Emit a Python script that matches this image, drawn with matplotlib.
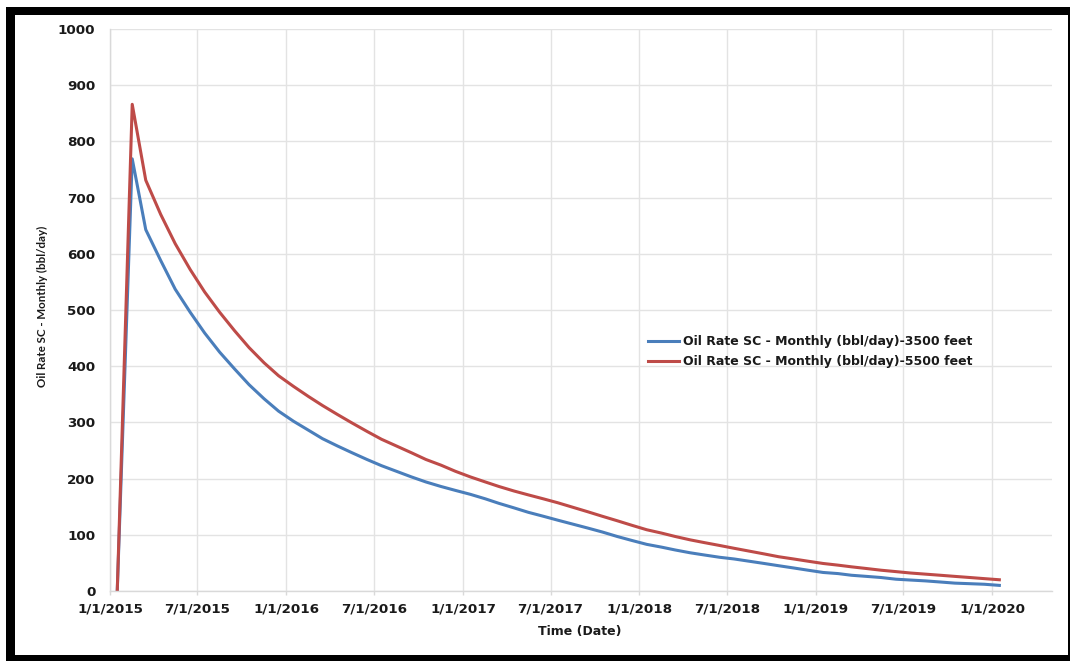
import matplotlib
matplotlib.use("Agg")
import matplotlib.pyplot as plt
from matplotlib.patches import Rectangle
import pandas as pd

# Monthly production dates (mid-month samples)
dates = pd.date_range("2015-01-01", periods=61, freq="MS") + pd.Timedelta(days=15)

# Oil rate, bbl/day
rate_3500 = [
    0, 769, 643, 588, 537, 496, 459, 425, 395, 367, 342, 320,
    302, 286, 271, 258, 246, 234, 223, 213, 203, 194, 186, 179,
    172, 164, 156, 148, 140, 133, 126, 119, 112, 105, 97, 90,
    83, 78, 73, 68, 64, 60, 57, 53, 49, 45, 41, 37,
    33, 31, 28, 26, 24, 21, 19.5, 18, 16, 14, 13, 12,
    10,
]
rate_5500 = [
    0, 866, 731, 670, 618, 572, 532, 496, 463, 433, 406, 383,
    364, 346, 330, 314, 299, 284, 270, 258, 246, 234, 224, 213,
    203, 194, 186, 178, 171, 164, 157, 149, 141, 133, 125, 117,
    109, 103, 97, 91, 86, 81, 76, 71, 66, 61, 57, 53,
    49, 46, 43, 40, 37, 34.5, 32, 30, 28, 26, 24, 22,
    20,
]
series_labels = [
    "Oil Rate SC - Monthly (bbl/day)-3500 feet",
    "Oil Rate SC - Monthly (bbl/day)-5500 feet",
]
x_tick_dates = ["2015-01-01", "2015-07-01", "2016-01-01", "2016-07-01",
                "2017-01-01", "2017-07-01", "2018-01-01", "2018-07-01",
                "2019-01-01", "2019-07-01", "2020-01-01"]
x_tick_labels = ["1/1/2015", "7/1/2015", "1/1/2016", "7/1/2016", "1/1/2017",
                 "7/1/2017", "1/1/2018", "7/1/2018", "1/1/2019", "7/1/2019",
                 "1/1/2020"]
y_ticks = [0, 100, 200, 300, 400, 500, 600, 700, 800, 900, 1000]

W, H = 1070, 661
fig = plt.figure(figsize=(W / 100, H / 100), dpi=100)
fig.patch.set_facecolor("white")


def px_rect(x0, y0, x1, y1, **kw):
    """Rectangle given in pixel coordinates measured from the top-left."""
    return Rectangle((x0 / W, 1 - y1 / H), (x1 - x0) / W, (y1 - y0) / H,
                     transform=fig.transFigure, **kw)


# Black frame around the chart area (heavier on the top and left)
fig.add_artist(px_rect(6, 7, 1070, 661, facecolor="black", edgecolor="none",
                       linewidth=0, zorder=0))
fig.add_artist(px_rect(15, 15, 1067.5, 655, facecolor="white", edgecolor="none",
                       linewidth=0, zorder=0.5))

left, right, top, bottom = 110, 1052, 29, 591
ax = fig.add_axes([left / W, 1 - bottom / H, (right - left) / W, (bottom - top) / H])
ax.set_facecolor("none")
ax.set_zorder(2)

blue = "#4A7EBB"
red = "#BE4B48"
ax.plot(dates, rate_3500, color=blue, lw=2.2, label=series_labels[0], solid_joinstyle="round")
ax.plot(dates, rate_5500, color=red, lw=2.2, label=series_labels[1], solid_joinstyle="round")

ax.set_xlim(pd.Timestamp("2015-01-01"), pd.Timestamp("2020-05-04"))
ax.set_ylim(0, 1000)

ax.set_xticks(pd.to_datetime(x_tick_dates))
ax.set_xticklabels(x_tick_labels)
ax.set_yticks(y_ticks)
ax.set_yticklabels([str(v) for v in y_ticks])

grid_c = "#E3E3E3"
ax.grid(True, color=grid_c, lw=1.0)
ax.set_axisbelow(True)
for side in ["top", "right"]:
    ax.spines[side].set_visible(False)
for side in ["left", "bottom"]:
    ax.spines[side].set_color("#D9D9D9")
    ax.spines[side].set_linewidth(1.0)

ax.tick_params(axis="x", length=3, width=1, color="#D9D9D9", pad=5,
               labelsize=9.7, labelcolor="#1a1a1a")
ax.tick_params(axis="y", length=0, pad=10.5, labelsize=9.7, labelcolor="#1a1a1a")
for lab in ax.get_xticklabels() + ax.get_yticklabels():
    lab.set_fontweight("bold")

fig.text(580 / W, 1 - 631 / H, "Time (Date)", ha="center", va="center",
         fontsize=9, fontweight="bold", color="#1a1a1a")
fig.text(42 / W, 1 - 306 / H, "Oil Rate SC - Monthly (bbl/day)", ha="center",
         va="center", rotation=90, fontsize=8.3, fontweight="bold",
         family="Lato", color="#1a1a1a")

leg = ax.legend(loc="center left",
                bbox_to_anchor=(648 / W, 1 - 351.5 / H),
                bbox_transform=fig.transFigure,
                frameon=False, borderpad=0, borderaxespad=0,
                handlelength=2.5, handletextpad=0.33, labelspacing=0.55,
                prop={"size": 9, "weight": "bold"})
for t in leg.get_texts():
    t.set_color("#1a1a1a")

fig.savefig("out.png", dpi=100, facecolor="white")
